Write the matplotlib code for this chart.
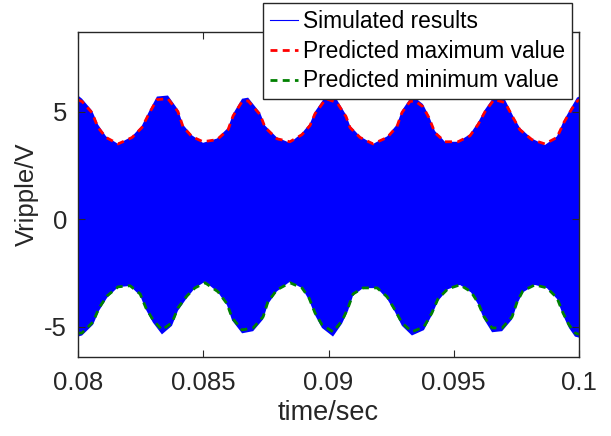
import numpy as np
import matplotlib
matplotlib.use('Agg')
import matplotlib.pyplot as plt

plt.rcParams['font.family'] = ['Liberation Sans', 'DejaVu Sans']

# predicted maximum envelope (time in s, volts)
t_max = [0.08000, 0.08016, 0.08056, 0.08080, 0.08112, 0.08160, 0.08216, 0.08255, 0.08283,
         0.08315, 0.08359, 0.08399, 0.08419, 0.08455, 0.08499, 0.08555, 0.08599, 0.08619,
         0.08655, 0.08679, 0.08727, 0.08747, 0.08794, 0.08846, 0.08894, 0.08926, 0.08946,
         0.08990, 0.09034, 0.09070, 0.09086, 0.09126, 0.09178, 0.09234, 0.09273, 0.09293,
         0.09325, 0.09345, 0.09377, 0.09401, 0.09425, 0.09465, 0.09517, 0.09565, 0.09597,
         0.09625, 0.09661, 0.09705, 0.09737, 0.09764, 0.09812, 0.09864, 0.09912, 0.09940,
         0.09972, 0.09992, 0.10000]
v_max = [5.55, 5.47, 4.95, 4.26, 3.80, 3.50, 3.80, 4.26, 4.90,
         5.56, 5.60, 5.00, 4.30, 3.84, 3.60, 3.70, 4.16, 4.80,
         5.47, 5.50, 4.86, 4.26, 3.74, 3.60, 3.93, 4.35, 4.90,
         5.60, 5.42, 4.77, 4.26, 3.80, 3.50, 3.80, 4.30, 4.95,
         5.47, 5.50, 5.23, 4.72, 4.02, 3.60, 3.60, 3.88, 4.40,
         5.00, 5.56, 5.42, 4.72, 4.16, 3.70, 3.50, 3.80, 4.50,
         5.14, 5.47, 5.55]

# predicted minimum envelope
t_min = [0.08000, 0.08016, 0.08060, 0.08084, 0.08116, 0.08160, 0.08208, 0.08248, 0.08271,
         0.08299, 0.08335, 0.08375, 0.08399, 0.08435, 0.08467, 0.08507, 0.08559, 0.08595,
         0.08615, 0.08655, 0.08699, 0.08739, 0.08758, 0.08794, 0.08846, 0.08894, 0.08922,
         0.08946, 0.08974, 0.09018, 0.09054, 0.09078, 0.09098, 0.09138, 0.09194, 0.09234,
         0.09265, 0.09293, 0.09333, 0.09381, 0.09413, 0.09437, 0.09477, 0.09525, 0.09569,
         0.09597, 0.09621, 0.09653, 0.09693, 0.09733, 0.09753, 0.09776, 0.09824, 0.09872,
         0.09912, 0.09936, 0.09960, 0.09984, 0.10000]
v_min = [-5.30, -5.28, -4.77, -4.12, -3.56, -3.14, -3.09, -3.47, -4.12,
         -4.67, -5.14, -4.81, -4.12, -3.56, -3.19, -2.95, -3.37, -3.93,
         -4.58, -5.14, -5.05, -4.53, -3.84, -3.28, -2.95, -3.19, -3.65,
         -4.35, -4.90, -5.23, -4.72, -4.12, -3.47, -3.19, -3.19, -3.60,
         -4.21, -4.81, -5.23, -5.00, -4.35, -3.70, -3.23, -3.05, -3.37,
         -3.88, -4.53, -5.05, -5.05, -4.53, -3.84, -3.33, -3.05, -3.19,
         -3.65, -4.35, -4.90, -5.28, -5.35]

# extent of the simulated ripple (blue band), read on the same time points
sim_max = [5.75, 5.60, 5.05, 4.40, 3.85, 3.50, 3.85, 4.35, 5.00,
           5.70, 5.75, 5.10, 4.40, 3.90, 3.55, 3.75, 4.25, 4.90,
           5.60, 5.65, 4.95, 4.35, 3.80, 3.55, 4.00, 4.45, 5.00,
           5.75, 5.55, 4.85, 4.35, 3.85, 3.50, 3.85, 4.40, 5.05,
           5.60, 5.65, 5.35, 4.80, 4.10, 3.60, 3.60, 3.95, 4.50,
           5.10, 5.70, 5.55, 4.80, 4.25, 3.75, 3.45, 3.85, 4.60,
           5.25, 5.65, 5.70]
sim_min = [-5.45, -5.40, -4.90, -4.25, -3.65, -3.15, -3.10, -3.55, -4.20,
           -4.80, -5.35, -4.95, -4.25, -3.65, -3.20, -2.90, -3.40, -4.00,
           -4.70, -5.30, -5.20, -4.65, -3.95, -3.35, -2.90, -3.20, -3.75,
           -4.45, -5.05, -5.45, -4.85, -4.25, -3.55, -3.20, -3.20, -3.70,
           -4.30, -4.95, -5.40, -5.15, -4.45, -3.80, -3.25, -3.05, -3.40,
           -3.95, -4.65, -5.25, -5.20, -4.65, -3.95, -3.40, -3.05, -3.20,
           -3.70, -4.45, -5.05, -5.45, -5.50]

fig = plt.figure(figsize=(6.11, 4.36), dpi=100)
ax = fig.add_axes([0.1277, 0.1812, 0.8199, 0.7454])

# blue band: top edge along t_max, back along t_min
band_x = np.concatenate([t_max, t_min[::-1]])
band_y = np.concatenate([sim_max, sim_min[::-1]])
ax.fill(band_x, band_y, color='#0000ff', lw=0)
ax.plot([], [], color='#0000ff', lw=0.8, label='Simulated results')
ax.plot(t_max, v_max, '--', color='#ff0000', lw=2.0, dashes=(2.5, 1.9), label='Predicted maximum value')
ax.plot(t_min, v_min, '--', color='#008000', lw=2.0, dashes=(2.5, 1.9), label='Predicted minimum value')

ax.set_xlim(0.08, 0.1)
ax.set_ylim(-6.4, 8.7)
ax.set_xticks([0.08, 0.085, 0.09, 0.095, 0.1])
ax.set_xticklabels(['0.08', '0.085', '0.09', '0.095', '0.1'])
ax.set_yticks([-5, 0, 5])
ax.set_yticklabels(['-5', '0', '5'])
ax.tick_params(direction='in', top=True, right=True, labelsize=18.5, length=5,
               color='#262626', labelcolor='#262626')
ax.tick_params(axis='x', pad=10)
ax.tick_params(axis='y', pad=8)
for s in ax.spines.values():
    s.set_color('#262626')
    s.set_linewidth(1.0)
ax.set_xlabel('time/sec', fontsize=19.5, color='#262626', labelpad=4)
ax.set_ylabel('Vripple/V', fontsize=18.5, color='#262626', labelpad=4)

leg = ax.legend(loc='upper right', bbox_to_anchor=(572 / 611, 1 - 3 / 436),
                bbox_transform=fig.transFigure, fontsize=16.4, fancybox=False,
                handlelength=1.25, handletextpad=0.2, borderpad=0.3, labelspacing=0.3,
                borderaxespad=0, framealpha=1)
leg.get_frame().set_edgecolor('#262626')
leg.get_frame().set_linewidth(1.0)

fig.savefig('out.png', dpi=100)
